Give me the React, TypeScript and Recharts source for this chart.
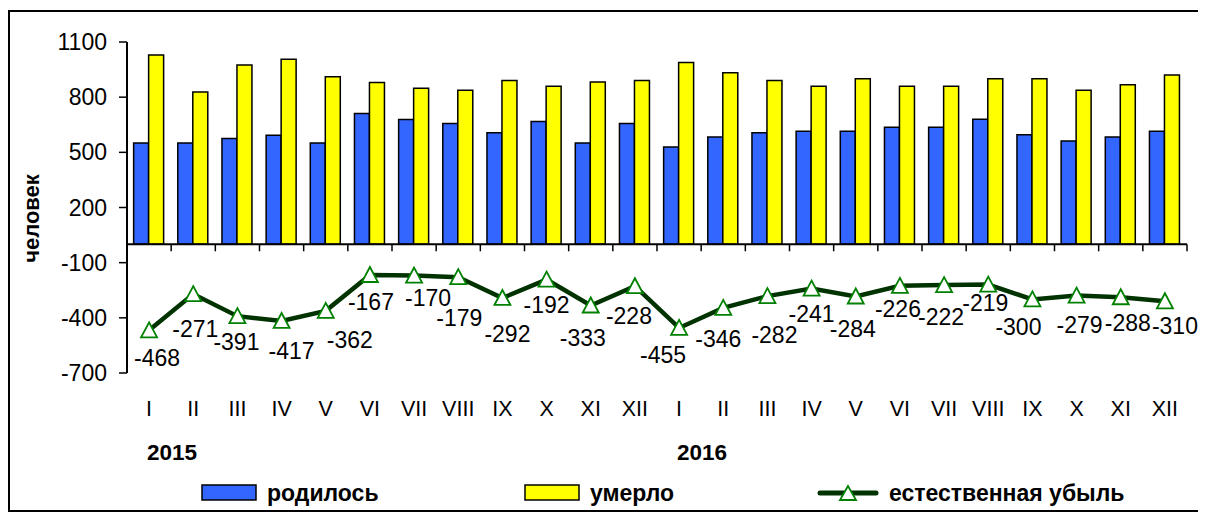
import React from 'react';
import { ComposedChart, Bar, Line, XAxis, YAxis, ReferenceLine, Legend } from 'recharts';

const FONT = '"Liberation Sans", Arial, Helvetica, sans-serif';

const months = ['I', 'II', 'III', 'IV', 'V', 'VI', 'VII', 'VIII', 'IX', 'X', 'XI', 'XII'];
const years = ['2015', '2016'];
const yTicks = [-700, -400, -100, 200, 500, 800, 1100];

const born = [551, 551, 575, 593, 551, 711, 679, 657, 606, 668, 551, 657, 529, 584, 606, 615, 615, 637, 637, 680, 595, 562, 584, 615];
const died = [1029, 828, 975, 1006, 911, 880, 848, 838, 891, 860, 882, 891, 988, 933, 891, 860, 900, 859, 859, 900, 900, 838, 867, 920];
const decrease = [-468, -271, -391, -417, -362, -167, -170, -179, -292, -192, -333, -228, -455, -346, -282, -241, -284, -226, -222, -219, -300, -279, -288, -310];

// label nudges (dx, dy) relative to each point, as placed in the original
const labelNudge: [number, number][] = [
  [8, 28], [2, 35], [-1, 26], [10, 30], [24, 29], [1, 27], [14, 22], [1, 41], [5, 36], [0, 25], [-8, 32], [-6, 30],
  [-16, 27], [-5, 31], [7, 39], [0, 25], [-3, 32], [-2, 23], [-3, 32], [-3, 18], [-14, 28], [3, 29], [7, 26], [10, 25],
];

const monthLabels = years.flatMap(() => months);
const data = born.map((b, i) => ({
  key: `${years[Math.floor(i / 12)]}-${monthLabels[i]}`,
  born: b,
  died: died[i],
  dec: decrease[i],
}));

const BLUE = '#3366FF';
const YELLOW = '#FFFF00';
const LINE = '#003300';
const MARK = '#008000';

const MonthTick = (props: any) => {
  const { x, y, index } = props;
  const yearIdx = index % 12 === 0 ? index / 12 : -1;
  return (
    <g>
      <text x={x} y={y + 43} textAnchor="middle" fontSize={21.5} fontFamily={FONT} fill="#000">
        {monthLabels[index]}
      </text>
      {yearIdx >= 0 && (
        <text x={x - 2} y={y + 87} textAnchor="start" fontSize={22.5} fontWeight="bold" fontFamily={FONT} fill="#000">
          {years[yearIdx]}
        </text>
      )}
    </g>
  );
};

const TriangleDot = (props: any) => {
  const { cx, cy, index, value } = props;
  if (cx == null || cy == null) return null;
  const [dx, dy] = labelNudge[index] || [0, 28];
  return (
    <g key={`dot-${index}`}>
      <polygon
        points={`${cx},${cy - 8} ${cx - 8},${cy + 7} ${cx + 8},${cy + 7}`}
        fill="#fff"
        stroke={MARK}
        strokeWidth={1.8}
      />
      <text x={cx + dx} y={cy + dy + 8} textAnchor="middle" fontSize={23} fontFamily={FONT} fill="#000">
        {value}
      </text>
    </g>
  );
};

const ZeroAxis = (p: any) => {
  const { x1, x2, y1 } = p;
  const n = data.length;
  const step = (x2 - x1) / n;
  return (
    <g>
      <line x1={x1} x2={x2} y1={y1} y2={y1} stroke="#000" strokeWidth={2} />
      {Array.from({ length: n + 1 }, (_, i) => (
        <line key={i} x1={x1 + i * step} x2={x1 + i * step} y1={y1} y2={y1 + 7} stroke="#000" strokeWidth={1.5} />
      ))}
    </g>
  );
};

const YLabel = (p: any) => {
  const vb = p.viewBox || {};
  const cx = vb.x + 31;
  const cy = vb.y + vb.height / 2 + 11;
  return (
    <text
      x={cx}
      y={cy}
      transform={`rotate(-90, ${cx}, ${cy})`}
      textAnchor="middle"
      fontSize={22}
      fontWeight="bold"
      fontFamily={FONT}
      fill="#000"
    >
      человек
    </text>
  );
};

const legendItems = [
  { name: 'родилось', type: 'bar', color: BLUE, left: 193 },
  { name: 'умерло', type: 'bar', color: YELLOW, left: 516 },
  { name: 'естественная убыль', type: 'line', color: LINE, left: 809 },
];

const LegendContent = () => (
  <div style={{ position: 'relative', width: 1198, height: 30, fontFamily: FONT }}>
    {legendItems.map((it) => (
      <div
        key={it.name}
        style={{ position: 'absolute', left: it.left, top: 0, height: 30, display: 'flex', alignItems: 'center' }}
      >
        {it.type === 'bar' ? (
          <svg width={56} height={18} style={{ display: 'block' }}>
            <rect x={1} y={1} width={54} height={15} fill={it.color} stroke="#000" strokeWidth={1.5} />
          </svg>
        ) : (
          <svg width={62} height={18} style={{ display: 'block' }}>
            <line x1={3} x2={59} y1={9} y2={9} stroke={LINE} strokeWidth={5} strokeLinecap="round" />
            <polygon points="31,2 23,16 39,16" fill="#fff" stroke={MARK} strokeWidth={1.8} />
          </svg>
        )}
        <span style={{ marginLeft: 10, fontSize: 23, fontWeight: 'bold', color: '#000' }}>{it.name}</span>
      </div>
    ))}
  </div>
);

export default function App() {
  return (
    <div style={{ position: 'relative', width: 1198, height: 509 }}>
      <ComposedChart
        width={1198}
        height={509}
        data={data}
        margin={{ top: 34, right: 19, bottom: 0, left: 0 }}
        barCategoryGap="15%"
        barGap={0}
        style={{ fontFamily: FONT }}
      >
        <XAxis
          dataKey="key"
          interval={0}
          axisLine={false}
          tickLine={false}
          tickSize={0}
          tickMargin={0}
          height={144}
          tick={<MonthTick />}
        />
        <YAxis
          width={119}
          domain={[-700, 1100]}
          ticks={yTicks}
          interval={0}
          allowDataOverflow
          axisLine={{ stroke: '#000', strokeWidth: 2 }}
          tickLine={{ stroke: '#000', strokeWidth: 1.5 }}
          tickSize={8}
          tickMargin={12}
          tick={{ fill: '#000', fontSize: 23, fontFamily: FONT }}
          label={<YLabel />}
        />
        <Bar dataKey="born" name="родилось" fill={BLUE} stroke="#000" strokeWidth={1.5} isAnimationActive={false} />
        <Bar dataKey="died" name="умерло" fill={YELLOW} stroke="#000" strokeWidth={1.5} isAnimationActive={false} />
        <ReferenceLine y={0} shape={<ZeroAxis />} />
        <Line
          dataKey="dec"
          name="естественная убыль"
          stroke={LINE}
          strokeWidth={4.5}
          dot={<TriangleDot />}
          activeDot={false}
          isAnimationActive={false}
        />
        <Legend
          verticalAlign="middle"
          align="center"
          wrapperStyle={{ top: 470, left: 0, width: 1198 }}
          content={<LegendContent />}
        />
      </ComposedChart>
      <div
        style={{
          position: 'absolute',
          left: 0,
          top: 2,
          width: 1194,
          height: 502,
          border: '2px solid #000',
          boxSizing: 'border-box',
          pointerEvents: 'none',
        }}
      />
    </div>
  );
}
